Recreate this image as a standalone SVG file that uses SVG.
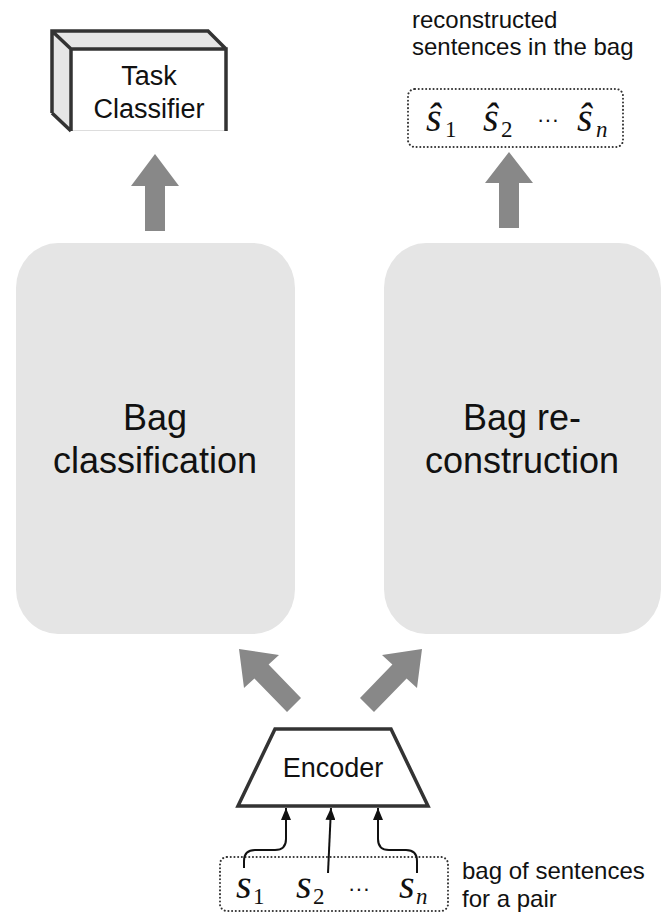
<svg xmlns="http://www.w3.org/2000/svg" width="661" height="913" viewBox="0 0 661 913">
  <style>
    .lbl { font-family: "Liberation Sans", Arial, sans-serif; fill: #111; }
    .big { font-size: 36px; text-anchor: middle; }
    .mid { font-size: 27px; text-anchor: middle; }
    .note { font-size: 24px; }
    .math { font-family: "Liberation Serif", "Times New Roman", serif; fill: #111; }
    .var { font-size: 40px; font-style: italic; }
    .sub { font-size: 23px; }
    .subi { font-size: 23px; font-style: italic; }
    .dots { font-family: "Liberation Sans", Arial, sans-serif; font-size: 22px; fill: #111; }
    .panel { fill: #e5e5e5; }
    .fat { fill: #888888; }
    .edge { fill: none; stroke: #333; stroke-width: 3.5; stroke-linejoin: miter; }
    .dotted { fill: none; stroke: #333; stroke-width: 2; stroke-dasharray: 0.1 3.6; stroke-linecap: round; }
    .thin { fill: none; stroke: #111; stroke-width: 2; }
  </style>
  <defs>
    <marker id="head" viewBox="0 0 12 10" refX="12" refY="5" markerWidth="12" markerHeight="10" markerUnits="userSpaceOnUse" orient="auto">
      <path d="M0,0 L12,5 L0,10 Z" fill="#111"/>
    </marker>
  </defs>

  <!-- task classifier block -->
  <g id="task-classifier">
    <polygon points="52,31 208,31 226,49 71,49" fill="#e6e6e6"/>
    <polygon points="52,31 71,49 71,131 52,113" fill="#e6e6e6"/>
    <rect x="71" y="49" width="155" height="82" fill="#fff"/>
    <line x1="71" y1="130.5" x2="226" y2="130.5" stroke="#ddd" stroke-width="1"/>
    <path class="edge" d="M71,131 L71,49 L226,49 L226,131 M52,113 L52,31 L208,31 L226,49 M52,31 L71,49 M52,113 L71,131"/>
    <text class="lbl mid" x="149" y="85">Task</text>
    <text class="lbl mid" x="149" y="118">Classifier</text>
  </g>

  <!-- reconstructed sentences -->
  <g id="reconstructed">
    <text class="lbl note" x="412" y="28">reconstructed</text>
    <text class="lbl note" x="412" y="55">sentences in the bag</text>
    <rect class="dotted" x="408" y="89" width="215" height="58" rx="7"/>
    <text class="math var" x="426" y="131">ŝ</text>
    <text class="math sub" x="445" y="137">1</text>
    <text class="math var" x="483" y="131">ŝ</text>
    <text class="math sub" x="501" y="137">2</text>
    <text class="dots" x="537" y="127">···</text>
    <text class="math var" x="577" y="131">ŝ</text>
    <text class="math subi" x="596" y="137">n</text>
  </g>

  <!-- bag classification panel -->
  <g id="bag-classification">
    <rect class="panel" x="16" y="243" width="279" height="391" rx="42" ry="45"/>
    <text class="lbl big" x="155" y="430">Bag</text>
    <text class="lbl big" x="155" y="473">classification</text>
  </g>

  <!-- bag reconstruction panel -->
  <g id="bag-reconstruction">
    <rect class="panel" x="384" y="243" width="277" height="391" rx="42" ry="45"/>
    <text class="lbl big" x="522" y="430">Bag re-</text>
    <text class="lbl big" x="522" y="473">construction</text>
  </g>

  <!-- encoder -->
  <g id="encoder">
    <polygon class="edge" points="275,729 391,729 428,806 238,806" fill="#fff"/>
    <text class="lbl mid" x="333" y="777">Encoder</text>
  </g>

  <!-- input sentences -->
  <g id="input-bag">
    <rect class="dotted" x="220" y="857" width="228" height="54" rx="7"/>
    <text class="math var" x="236" y="898">s</text>
    <text class="math sub" x="253" y="904">1</text>
    <text class="math var" x="296" y="898">s</text>
    <text class="math sub" x="313" y="904">2</text>
    <text class="dots" x="348" y="896">···</text>
    <text class="math var" x="399" y="898">s</text>
    <text class="math subi" x="416" y="904">n</text>
    <text class="lbl note" x="462" y="879">bag of sentences</text>
    <text class="lbl note" x="462" y="907">for a pair</text>
  </g>

  <!-- connectors -->
  <g id="connectors">
    <polygon class="fat" points="155,154 179,186 165,186 165,231 145,231 145,186 131,186"/>
    <polygon class="fat" points="509,152 533,183 519,183 519,228 499,228 499,183 485,183"/>
    <polygon class="fat" points="239,649 279,655 268.6,664.5 301,698 287,712 254.4,678.5 244,688"/>
    <polygon class="fat" points="422,649 382,655 392.4,664.5 360,698 374,712 406.6,678.5 417,688"/>
    <path class="thin" marker-end="url(#head)" d="M244,868 L244,861 Q244,850 255,850 L275,850 Q286,850 286,839 L286,808"/>
    <path class="thin" marker-end="url(#head)" d="M328,873 L331,808"/>
    <path class="thin" marker-end="url(#head)" d="M417,873 L417,861 Q417,850 406,850 L389,850 Q378,850 378,839 L378,808"/>
  </g>
</svg>
